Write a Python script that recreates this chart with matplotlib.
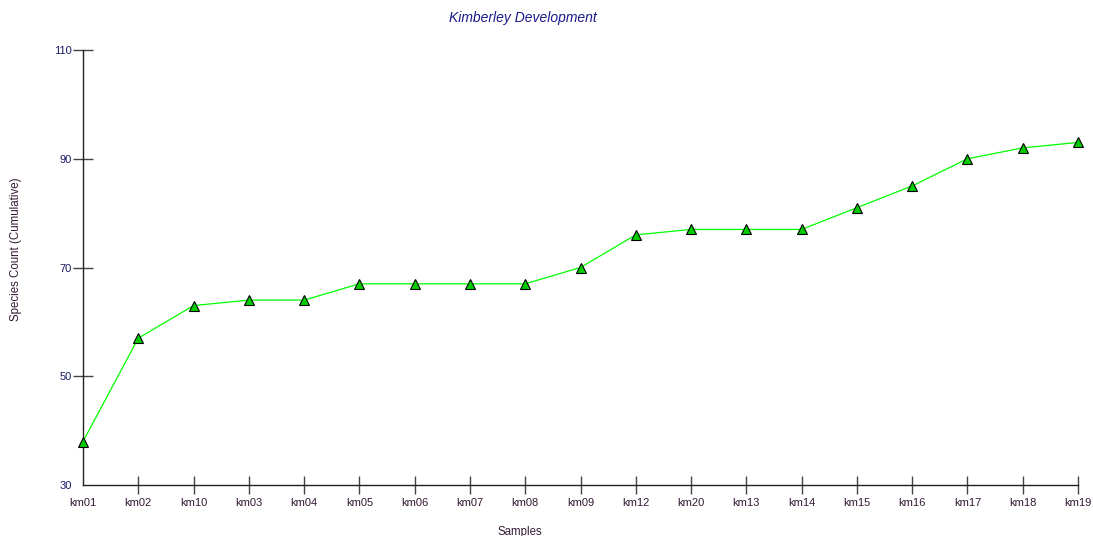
import matplotlib
matplotlib.use("Agg")
import matplotlib.pyplot as plt

samples = ["km01", "km02", "km10", "km03", "km04", "km05", "km06", "km07", "km08", "km09",
           "km12", "km20", "km13", "km14", "km15", "km16", "km17", "km18", "km19"]
species_count = [38, 57, 63, 64, 64, 67, 67, 67, 67, 70, 76, 77, 77, 77, 81, 85, 90, 92, 93]
y_ticks = [30, 50, 70, 90, 110]

plt.rcParams['font.family'] = ['Liberation Sans', 'DejaVu Sans']

fig = plt.figure(figsize=(10.93, 5.36), dpi=100)
ax = fig.add_axes([83/1093, 1-485/536, (1078-83)/1093, (485-50)/536])

x = list(range(len(samples)))
ax.plot(x, species_count, color='#00ff00', linewidth=0.9, marker='^', markersize=6.5,
        markerfacecolor='#00cc00', markeredgecolor='black', markeredgewidth=0.8, clip_on=False, zorder=3)

ax.set_xlim(0, len(samples) - 1)
ax.set_ylim(30, 110)
ax.set_xticks(x)
ax.set_xticklabels(samples)
ax.set_yticks(y_ticks)
ax.set_yticklabels([str(v) for v in y_ticks])

for s in ['top', 'right']:
    ax.spines[s].set_visible(False)
for s in ['left', 'bottom']:
    ax.spines[s].set_color('#222222')
    ax.spines[s].set_linewidth(1.0)

ax.tick_params(axis='x', direction='inout', length=13, width=1, color='#444444',
               labelsize=8, labelcolor='#331a33', pad=2.5)
ax.tick_params(axis='y', direction='inout', length=13.7, width=1, color='#444444',
               labelsize=8, labelcolor='#1a1a66', pad=1)
ax.xaxis.get_major_ticks()[0].tick1line.set_visible(False)
ax.yaxis.get_major_ticks()[0].tick1line.set_visible(False)

ax.set_xlabel('Samples', fontsize=8.3, color='#331a33', labelpad=13, x=0.439)
ax.set_ylabel('Species Count (Cumulative)', fontsize=8.3, color='#331a33', labelpad=23, y=0.5425)
fig.suptitle('Kimberley Development', x=523/1093, y=1-18/536, va='center',
             fontsize=10, style='italic', color='#1a1a8c')

fig.savefig('out.png', dpi=100)
